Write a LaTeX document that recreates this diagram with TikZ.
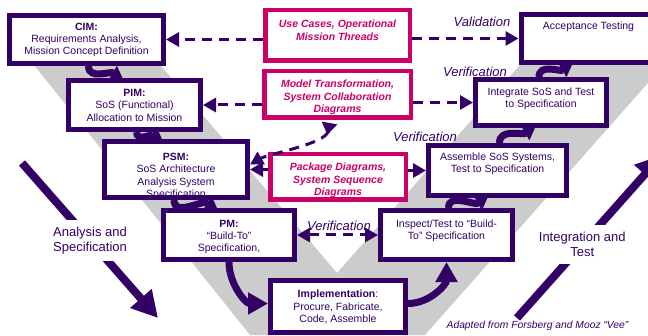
\documentclass[tikz,border=0pt]{standalone}
\usepackage{fontspec}
\setmainfont{Liberation Sans}
\usetikzlibrary{arrows.meta}

\definecolor{vpurple}{RGB}{51,0,102}
\definecolor{vpink}{RGB}{204,0,102}
\definecolor{vgray}{RGB}{204,204,204}

\tikzset{
  vbox/.style={draw=vpurple, line width=5pt, fill=white, inner sep=0pt},
  pbox/.style={draw=vpink, line width=4.5pt, fill=white, inner sep=0pt},
  btext/.style={text=vpurple, align=center, inner sep=0pt,
    font=\fontsize{10.5}{12.4}\selectfont},
  ptext/.style={text=vpink, align=center, inner sep=0pt,
    font=\fontsize{10.5}{12.5}\selectfont\bfseries\itshape},
  vlabel/.style={text=vpurple, inner sep=0pt, font=\fontsize{13}{15}\selectfont\itshape},
  dashlink/.style={draw=vpurple, line width=3pt, dash pattern=on 10pt off 7pt,
    >={Triangle[length=13pt,width=14pt]}},
  steplink/.style={draw=vpurple, line width=7pt, -{Triangle[length=11pt,width=15pt]}},
  biglink/.style={draw=vpurple, line width=7pt, -{Triangle[length=20pt,width=21pt]}},
  phase/.style={draw=vpurple, line width=8pt, -{Triangle[length=26pt,width=27pt]}},
  phaselabel/.style={fill=white, text=vpurple, align=center, inner xsep=2pt, inner ysep=7pt,
    font=\fontsize{13}{15}\selectfont},
}

\begin{document}
\begin{tikzpicture}[x=1pt,y=1pt]

	\clip (0,0) rectangle (648,335);

	% the vee
	\fill[vgray] (14,295) -- (250,0) -- (425,0) -- (686,295) -- (542,295) -- (337,62) -- (139,295) -- cycle;

	% left leg
	\node[vbox, minimum width=154pt, minimum height=48pt] (cim)  at ( 86.5,295.5) {};
	\node[vbox, minimum width=132pt, minimum height=49pt] (pim)  at (134.5,230.0) {};
	\node[vbox, minimum width=143pt, minimum height=56pt] (psm)  at (176.0,165.5) {};
	\node[vbox, minimum width=131pt, minimum height=49pt] (pm)   at (229.0,100.0) {};
	\node[vbox, minimum width=135pt, minimum height=52pt] (impl) at (338.0, 28.5) {};
	% right leg
	\node[vbox, minimum width=132pt, minimum height=49pt] (insp) at (446.5,100.0) {};
	\node[vbox, minimum width=138pt, minimum height=50pt] (asm)  at (497.5,164.5) {};
	\node[vbox, minimum width=131pt, minimum height=46pt] (int)  at (541.0,232.5) {};
	\node[vbox, minimum width=134pt, minimum height=48pt] (acc)  at (588.0,296.5) {};
	% model boxes
	\node[pbox, minimum width=144.5pt, minimum height=50.5pt] (uc)  at (337.5,299.5) {};
	\node[pbox, minimum width=146.5pt, minimum height=46.5pt] (mt)  at (337.5,240.5) {};
	\node[pbox, minimum width=135.5pt, minimum height=45.5pt] (pkg) at (338.0,158.0) {};

	\node[btext] (cim-t)  at ( 86.5,295.0) {\textbf{CIM:}\\Requirements Analysis,\\Mission Concept Definition};
	\node[btext] (pim-t)  at (134.5,229.7) {\textbf{PIM:}\\SoS (Functional)\\Allocation to Mission};
	\begin{scope}
		\clip ([shift={(2.5pt,2.5pt)}]psm.south west) rectangle ([shift={(-2.5pt,-2.5pt)}]psm.north east);
		\node[btext] (psm-t) at (176.0,158.5) {\textbf{PSM:}\\SoS Architecture\\Analysis System\\Specification};
	\end{scope}
	\node[btext] (pm-t)   at (229.0, 98.0) {\textbf{PM:}\\“Build-To”\\Specification,};
	\node[btext] (impl-t) at (338.0, 28.0) {\textbf{Implementation}:\\Procure, Fabricate,\\Code, Assemble};
	\node[btext] (insp-t) at (446.5,104.0) {Inspect/Test to “Build-\\To” Specification};
	\node[btext] (asm-t)  at (497.5,171.5) {Assemble SoS Systems,\\Test to Specification};
	\node[btext] (int-t)  at (541.0,236.0) {Integrate SoS and Test\\to Specification};
	\node[btext] (acc-t)  at (588.5,308.0) {Acceptance Testing};

	\node[ptext] (uc-t)  at (337.5,304.5) {Use Cases, Operational\\Mission Threads};
	\node[ptext] (mt-t)  at (337.5,237.5) {Model Transformation,\\System Collaboration\\Diagrams};
	\node[ptext] (pkg-t) at (338.0,154.5) {Package Diagrams,\\System Sequence\\Diagrams};

	% dashed links
	\draw[dashlink, ->] (cim.east -| uc.west) -- (cim.east);
	\draw[dashlink, ->] (acc.west -| uc.east) -- (acc.west);
	\draw[dashlink, ->] (pim.east -| mt.west) -- (pim.east);
	\draw[dashlink, ->] (int.west -| mt.east) -- (int.west);
	\draw[dashlink, ->] (psm.east -| pkg.west) -- (psm.east);
	\draw[dashlink, ->] (asm.west -| pkg.east) -- (asm.west);
	\draw[dashlink, <->] (pm.east) -- (insp.west);
	\draw[dashlink, {Triangle[reversed,length=12pt,width=15pt]}-{Triangle[length=13pt,width=14pt]}]
		([xshift=-8pt,yshift=-3pt]mt.south) to[out=-100,in=30,looseness=0.6] ([yshift=5pt]psm.east);

	\node[vlabel] (val)   at (482.0,313.0) {Validation};
	\node[vlabel] (ver-1) at (475.0,263.0) {Verification};
	\node[vlabel] (ver-2) at (425.0,198.0) {Verification};
	\node[vlabel] (ver-3) at (339.0,109.0) {Verification};

	% steps down and up the vee
	\draw[steplink] ([xshift=2pt]cim.south)  to[out=-90,in=150] ([xshift=-12pt]pim.north);
	\draw[steplink] ([xshift=2pt]pim.south)  to[out=-90,in=150] ([xshift=-14pt]psm.north);
	\draw[steplink] ([xshift=-2pt]psm.south) to[out=-90,in=150] ([xshift=-12pt]pm.north);
	\draw[biglink] (pm.south) to[out=-90,in=180] ([yshift=3pt]impl.west);
	\draw[biglink] ([yshift=3pt]impl.east) to[out=0,in=-90] (insp.south);
	\draw[steplink] ([xshift=2pt]insp.north) to[out=90,in=-150] ([xshift=-10pt]asm.south);
	\draw[steplink] ([xshift=2pt]asm.north)  to[out=90,in=-150] ([xshift=-6pt]int.south);
	\draw[steplink] ([xshift=-2pt]int.north) to[out=90,in=-150] ([xshift=-16pt]acc.south);

	% the two phases
	\coordinate (as-start) at (22,172);
	\coordinate (as-end)   at (158,17);
	\draw[phase] (as-start) -- node[phaselabel] (as-label) {Analysis and\\Specification} (as-end);
	\coordinate (it-start) at (517,17);
	\coordinate (it-end)   at (662,180);
	\draw[phase] (it-start) -- node[phaselabel, pos=0.45] (it-label) {Integration and\\Test} (it-end);

	\node[text=vpurple, inner sep=0pt, font=\fontsize{10.3}{12}\selectfont\itshape] (src)
		at (537.5,9.5) {Adapted from Forsberg and Mooz “Vee”};

\end{tikzpicture}
\end{document}
